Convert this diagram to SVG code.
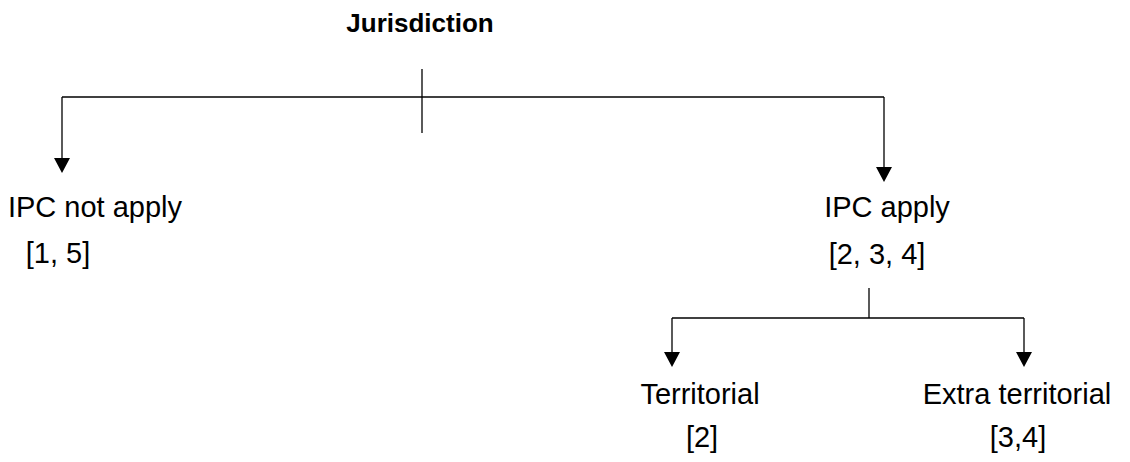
<svg xmlns="http://www.w3.org/2000/svg" width="1130" height="462" viewBox="0 0 1130 462">
  <style>
    .lbl { font-family: "Liberation Sans", Arial, sans-serif; font-size: 29px; fill: #000; text-anchor: middle; }
    .title { font-family: "Liberation Sans", Arial, sans-serif; font-size: 26px; font-weight: bold; fill: #000; text-anchor: middle; }
    .ln { stroke: #000; stroke-width: 1.3; fill: none; }
  </style>
  <defs>
    <marker id="arr" viewBox="0 0 15 16" refX="13" refY="8" markerWidth="15" markerHeight="16" markerUnits="userSpaceOnUse" orient="auto">
      <path d="M0,0 L15,8 L0,16 z" fill="#000"/>
    </marker>
  </defs>
  <rect width="1130" height="462" fill="#fff"/>

  <g id="connectors">
    <line class="ln" x1="422" y1="69" x2="422" y2="133"/>
    <line class="ln" x1="62" y1="97" x2="884" y2="97"/>
    <path class="ln" d="M62 97 V171" marker-end="url(#arr)"/>
    <path class="ln" d="M884 97 V180" marker-end="url(#arr)"/>
    <line class="ln" x1="869" y1="288" x2="869" y2="318"/>
    <line class="ln" x1="672" y1="318" x2="1024" y2="318"/>
    <path class="ln" d="M672 318 V365" marker-end="url(#arr)"/>
    <path class="ln" d="M1024 318 V365" marker-end="url(#arr)"/>
  </g>

  <g id="jurisdiction">
    <text class="title" x="420" y="32">Jurisdiction</text>
  </g>
  <g id="ipc-not-apply">
    <text class="lbl" x="95" y="217">IPC not apply</text>
    <text class="lbl" x="58" y="263">[1, 5]</text>
  </g>
  <g id="ipc-apply">
    <text class="lbl" x="887" y="217">IPC apply</text>
    <text class="lbl" x="877" y="264">[2, 3, 4]</text>
  </g>
  <g id="territorial">
    <text class="lbl" x="700" y="404">Territorial</text>
    <text class="lbl" x="702" y="447">[2]</text>
  </g>
  <g id="extra-territorial">
    <text class="lbl" x="1017" y="404">Extra territorial</text>
    <text class="lbl" x="1018" y="447">[3,4]</text>
  </g>
</svg>
